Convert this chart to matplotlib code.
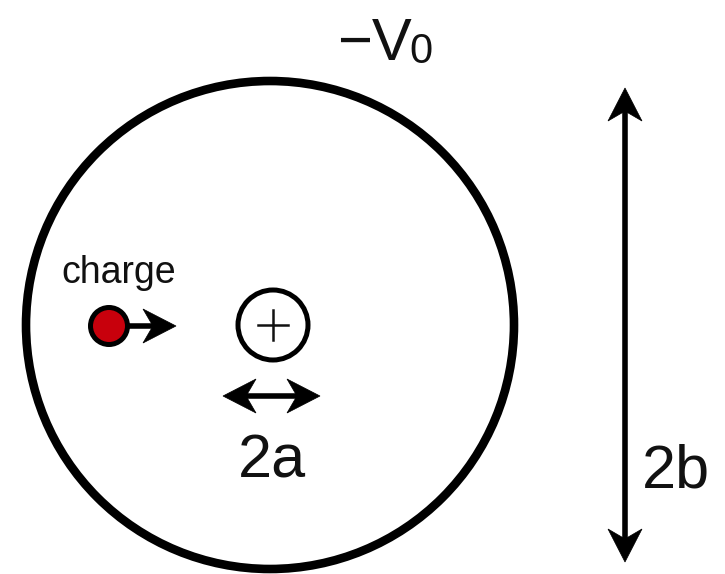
import matplotlib

matplotlib.use("Agg")
import matplotlib.pyplot as plt  # noqa: E402
import numpy as np  # noqa: E402
from matplotlib.patches import Circle, Polygon  # noqa: E402

# diagram geometry, in pixel units of the 725x574 canvas (y grows downward)
outer_center = (270, 325)
outer_radius = 244
inner_center = (273, 325)
inner_radius = 35
plus_half = 15
charge_center = (109, 326)
charge_radius = 18.5

# arrows: (start, end, head at start?, head at end?)
arrows = [
    ((128, 326), (176, 326), False, True),
    ((223, 396), (320, 396), True, True),
    ((625, 88), (625, 562), True, True),
]
head_len = 33
head_half = 17
notch = 0.7

labels = ["charge", "2a", "2b"]
label_xy = [(119, 283), (272, 478), (676, 488)]
label_size = [27, 44, 44]

fig = plt.figure(figsize=(7.25, 5.74), dpi=100)
ax = fig.add_axes([0, 0, 1, 1])
ax.set_xlim(0, 725)
ax.set_ylim(574, 0)
ax.set_aspect("equal")
ax.axis("off")

plt.rcParams["font.family"] = ["Liberation Sans", "DejaVu Sans"]
ink = "#111111"

ax.add_patch(Circle(outer_center, outer_radius, fill=False, ec="black", lw=6.2))
ax.add_patch(Circle(inner_center, inner_radius, fill=False, ec="black", lw=3.6))
ax.add_patch(Circle(charge_center, charge_radius, fc="#c8000c", ec="black", lw=3.6))
cx, cy = inner_center
ax.plot([cx - plus_half, cx + plus_half], [cy, cy], color=ink, lw=1.8)
ax.plot([cx, cx], [cy - plus_half, cy + plus_half], color=ink, lw=1.8)


def stealth_head(tip, direction):
    d = np.asarray(direction, float)
    d /= np.hypot(*d)
    n = np.array([-d[1], d[0]])
    tip = np.asarray(tip, float)
    back = tip - d * head_len
    pts = [tip, back + n * head_half, tip - d * head_len * notch, back - n * head_half]
    ax.add_patch(Polygon(pts, closed=True, fc="black", ec="black", lw=0.5))


for p0, p1, h0, h1 in arrows:
    p0 = np.asarray(p0, float)
    p1 = np.asarray(p1, float)
    d = p1 - p0
    u = d / np.hypot(*d)
    a = p0 + u * head_len * notch * 0.9 if h0 else p0
    b = p1 - u * head_len * notch * 0.9 if h1 else p1
    ax.plot([a[0], b[0]], [a[1], b[1]], color="black", lw=4.0, solid_capstyle="butt")
    if h0:
        stealth_head(p0, -d)
    if h1:
        stealth_head(p1, d)

for text, (x, y), size in zip(labels, label_xy, label_size):
    ax.text(x, y, text, ha="center", va="baseline", fontsize=size, color=ink)

ax.text(374, 60, "\u2212V", ha="center", va="baseline", fontsize=43, color=ink)
ax.text(421, 63, "0", ha="center", va="baseline", fontsize=30, color=ink)

fig.savefig("out.png", dpi=100)
plt.close(fig)
